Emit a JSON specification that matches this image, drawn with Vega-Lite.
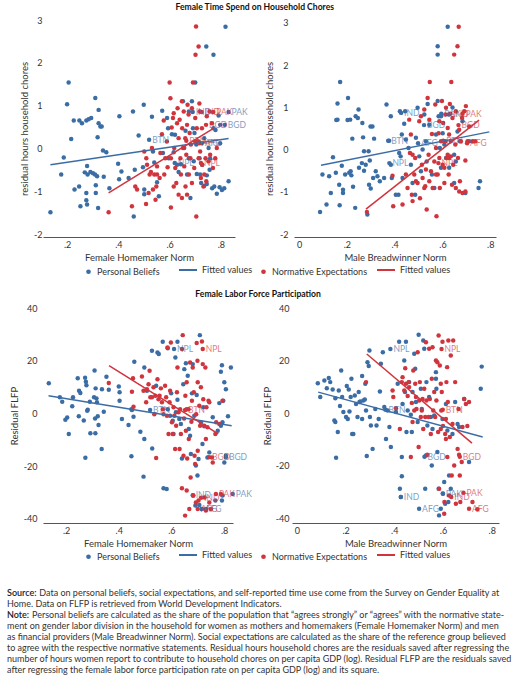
{
  "$schema": "https://vega.github.io/schema/vega-lite/v6.json",
  "padding": {"left": 7, "top": 3, "right": 2, "bottom": 0},
  "spacing": 27,
  "datasets": {
    "tl": [
      {"g":"PB","x":0.135,"y":-1.49},{"g":"PB","x":0.177,"y":-0.61},{"g":"PB","x":0.187,"y":-0.21},{"g":"PB","x":0.2,"y":1.03},{"g":"PB","x":0.206,"y":1.54},{"g":"PB","x":0.216,"y":0.22},{"g":"PB","x":0.226,"y":0.65},{"g":"PB","x":0.229,"y":-0.96},{"g":"PB","x":0.247,"y":-0.89},{"g":"PB","x":0.248,"y":0.65},{"g":"PB","x":0.258,"y":0.59},{"g":"PB","x":0.252,"y":-1.35},{"g":"PB","x":0.269,"y":-0.56},{"g":"PB","x":0.275,"y":0.65},{"g":"PB","x":0.28,"y":-0.61},{"g":"PB","x":0.278,"y":-0.41},{"g":"PB","x":0.275,"y":-1.04},{"g":"PB","x":0.275,"y":-1.21},{"g":"PB","x":0.278,"y":-1.31},{"g":"PB","x":0.284,"y":0.68},{"g":"PB","x":0.294,"y":0.71},{"g":"PB","x":0.291,"y":-0.55},{"g":"PB","x":0.301,"y":-0.58},{"g":"PB","x":0.31,"y":1.18},{"g":"PB","x":0.309,"y":-0.61},{"g":"PB","x":0.317,"y":-0.65},{"g":"PB","x":0.312,"y":-0.86},{"g":"PB","x":0.312,"y":-1.04},{"g":"PB","x":0.319,"y":0.26},{"g":"PB","x":0.323,"y":0.9},{"g":"PB","x":0.323,"y":0.59},{"g":"PB","x":0.33,"y":0.51},{"g":"PB","x":0.335,"y":0.51},{"g":"PB","x":0.321,"y":-1.39},{"g":"PB","x":0.34,"y":-0.05},{"g":"PB","x":0.353,"y":-0.09},{"g":"PB","x":0.343,"y":-0.66},{"g":"PB","x":0.365,"y":-0.93},{"g":"PB","x":0.404,"y":0.75},{"g":"PB","x":0.399,"y":-0.36},{"g":"PB","x":0.403,"y":-0.72},{"g":"PB","x":0.412,"y":-0.54},{"g":"PB","x":0.44,"y":-0.69},{"g":"PB","x":0.457,"y":0.86},{"g":"PB","x":0.46,"y":-1.59},{"g":"PB","x":0.464,"y":-0.5},{"g":"PB","x":0.479,"y":0.3},{"g":"PB","x":0.499,"y":1.02},{"g":"PB","x":0.496,"y":-0.44},{"g":"PB","x":0.501,"y":-0.96},{"g":"PB","x":0.501,"y":-1.07},{"g":"PB","x":0.531,"y":0.74},{"g":"PB","x":0.535,"y":-0.07},{"g":"PB","x":0.54,"y":-0.33},{"g":"PB","x":0.551,"y":-0.79},{"g":"PB","x":0.558,"y":-1.12},{"g":"PB","x":0.571,"y":0.88},{"g":"PB","x":0.574,"y":-0.11},{"g":"PB","x":0.59,"y":0.71},{"g":"PB","x":0.594,"y":0.47},{"g":"PB","x":0.596,"y":-0.23},{"g":"PB","x":0.609,"y":0.33},{"g":"PB","x":0.616,"y":-0.09},{"g":"PB","x":0.621,"y":0.32},{"g":"PB","x":0.629,"y":-0.38},{"g":"PB","x":0.635,"y":-0.55},{"g":"PB","x":0.644,"y":-0.37},{"g":"PB","x":0.652,"y":1.1},{"g":"PB","x":0.657,"y":0.01},{"g":"PB","x":0.662,"y":0.41},{"g":"PB","x":0.668,"y":-0.61},{"g":"PB","x":0.675,"y":0.86},{"g":"PB","x":0.687,"y":1.1},{"g":"PB","x":0.7,"y":1.54},{"g":"PB","x":0.691,"y":0.47},{"g":"PB","x":0.697,"y":0.36},{"g":"PB","x":0.704,"y":0.09},{"g":"PB","x":0.713,"y":0.16},{"g":"PB","x":0.717,"y":-0.23},{"g":"PB","x":0.719,"y":-0.61},{"g":"PB","x":0.723,"y":-0.81},{"g":"PB","x":0.735,"y":-0.87},{"g":"PB","x":0.745,"y":-0.83},{"g":"PB","x":0.743,"y":2.38},{"g":"PB","x":0.771,"y":2.19},{"g":"PB","x":0.818,"y":2.84},{"g":"PB","x":0.771,"y":0.47},{"g":"PB","x":0.779,"y":0.43},{"g":"PB","x":0.766,"y":-0.93},{"g":"PB","x":0.774,"y":-0.89},{"g":"PB","x":0.784,"y":-1.06},{"g":"PB","x":0.795,"y":-0.91},{"g":"PB","x":0.804,"y":-0.97},{"g":"PB","x":0.813,"y":-0.93},{"g":"PB","x":0.83,"y":-0.77},{"g":"PB","x":0.797,"y":0.12},{"g":"PB","x":0.797,"y":0.55},{"g":"PB","x":0.791,"y":0.77},{"g":"PB","x":0.756,"y":-0.5},{"g":"PB","x":0.745,"y":-0.63},{"g":"PB","x":0.727,"y":-0.38},{"g":"PB","x":0.752,"y":0.01},{"g":"PB","x":0.758,"y":-0.23},{"g":"PB","x":0.694,"y":-0.3},{"g":"PB","x":0.675,"y":-0.23},{"g":"PB","x":0.681,"y":-1.16},{"g":"PB","x":0.706,"y":-0.6},{"g":"PB","x":0.735,"y":0.24},
      {"g":"PB","x":0.69,"y":0.85,"lab":"IND"},{"g":"PB","x":0.83,"y":0.85,"lab":"PAK"},{"g":"PB","x":0.815,"y":0.55,"lab":"BGD"},{"g":"PB","x":0.52,"y":0.2,"lab":"BTN"},{"g":"PB","x":0.725,"y":0.12,"lab":"AFG"},{"g":"PB","x":0.62,"y":-0.34,"lab":"NPL"},
      {"g":"NE","x":0.362,"y":-1.49},{"g":"NE","x":0.453,"y":-1.35},{"g":"NE","x":0.466,"y":-0.89},{"g":"NE","x":0.473,"y":-0.96},{"g":"NE","x":0.501,"y":-0.07},{"g":"NE","x":0.509,"y":-0.23},{"g":"NE","x":0.512,"y":-0.38},{"g":"NE","x":0.508,"y":-1.3},{"g":"NE","x":0.518,"y":-1.04},{"g":"NE","x":0.522,"y":-0.61},{"g":"NE","x":0.527,"y":-0.55},{"g":"NE","x":0.535,"y":-0.96},{"g":"NE","x":0.54,"y":-0.61},{"g":"NE","x":0.545,"y":-1.2},{"g":"NE","x":0.548,"y":-0.89},{"g":"NE","x":0.551,"y":-0.61},{"g":"NE","x":0.561,"y":-0.69},{"g":"NE","x":0.57,"y":0.33},{"g":"NE","x":0.577,"y":0.65},{"g":"NE","x":0.579,"y":-0.61},{"g":"NE","x":0.583,"y":-0.23},{"g":"NE","x":0.592,"y":-0.44},{"g":"NE","x":0.6,"y":1.54},{"g":"NE","x":0.603,"y":1.17},{"g":"NE","x":0.605,"y":-0.23},{"g":"NE","x":0.605,"y":-1.38},{"g":"NE","x":0.608,"y":0.49},{"g":"NE","x":0.613,"y":0.71},{"g":"NE","x":0.616,"y":0.82},{"g":"NE","x":0.618,"y":0.01},{"g":"NE","x":0.622,"y":-0.46},{"g":"NE","x":0.626,"y":-0.81},{"g":"NE","x":0.629,"y":0.59},{"g":"NE","x":0.631,"y":0.94},{"g":"NE","x":0.635,"y":0.24},{"g":"NE","x":0.635,"y":-1.08},{"g":"NE","x":0.639,"y":0.67},{"g":"NE","x":0.642,"y":-0.23},{"g":"NE","x":0.644,"y":-0.61},{"g":"NE","x":0.648,"y":1.1},{"g":"NE","x":0.649,"y":0.47},{"g":"NE","x":0.652,"y":0.01},{"g":"NE","x":0.655,"y":0.86},{"g":"NE","x":0.657,"y":-0.42},{"g":"NE","x":0.661,"y":0.24},{"g":"NE","x":0.662,"y":-0.89},{"g":"NE","x":0.665,"y":-0.15},{"g":"NE","x":0.668,"y":0.55},{"g":"NE","x":0.67,"y":1.02},{"g":"NE","x":0.674,"y":0.79},{"g":"NE","x":0.675,"y":-0.61},{"g":"NE","x":0.678,"y":0.36},{"g":"NE","x":0.681,"y":-0.23},{"g":"NE","x":0.683,"y":0.09},{"g":"NE","x":0.687,"y":-0.81},{"g":"NE","x":0.691,"y":1.54},{"g":"NE","x":0.696,"y":-0.46},{"g":"NE","x":0.7,"y":0.71},{"g":"NE","x":0.701,"y":2.19},{"g":"NE","x":0.703,"y":2.85},{"g":"NE","x":0.704,"y":-1.59},{"g":"NE","x":0.706,"y":0.47},{"g":"NE","x":0.709,"y":0.16},{"g":"NE","x":0.713,"y":2.38},{"g":"NE","x":0.713,"y":-0.23},{"g":"NE","x":0.716,"y":1.05},{"g":"NE","x":0.719,"y":-0.07},{"g":"NE","x":0.722,"y":-0.69},{"g":"NE","x":0.726,"y":0.47},{"g":"NE","x":0.727,"y":-0.38},{"g":"NE","x":0.732,"y":-0.89},{"g":"NE","x":0.735,"y":-0.61},{"g":"NE","x":0.74,"y":-0.23},{"g":"NE","x":0.743,"y":-0.77},{"g":"NE","x":0.745,"y":0.75},{"g":"NE","x":0.752,"y":-0.3},{"g":"NE","x":0.756,"y":0.86},{"g":"NE","x":0.758,"y":-0.15},{"g":"NE","x":0.765,"y":0.59},{"g":"NE","x":0.769,"y":-0.46},{"g":"NE","x":0.778,"y":-0.23},{"g":"NE","x":0.784,"y":0.01},{"g":"NE","x":0.564,"y":-0.11},{"g":"NE","x":0.589,"y":0.16},{"g":"NE","x":0.531,"y":0.01},{"g":"NE","x":0.551,"y":-0.42},{"g":"NE","x":0.668,"y":-1.08},{"g":"NE","x":0.648,"y":-1.16},{"g":"NE","x":0.616,"y":-0.89},{"g":"NE","x":0.717,"y":0.86},{"g":"NE","x":0.7,"y":0.16},{"g":"NE","x":0.687,"y":0.94},
      {"g":"NE","x":0.725,"y":0.85,"lab":"IND"},{"g":"NE","x":0.77,"y":0.85,"lab":"PAK"},{"g":"NE","x":0.742,"y":0.55,"lab":"BGD"},{"g":"NE","x":0.665,"y":0.18,"lab":"BTN"},{"g":"NE","x":0.715,"y":0.12,"lab":"AFG"},{"g":"NE","x":0.722,"y":-0.34,"lab":"NPL"}
    ],
    "tlfit": [
      {"g":"FPB","x":0.135,"y":-0.38},{"g":"FPB","x":0.83,"y":0.23},
      {"g":"FNE","x":0.362,"y":-1.04},{"g":"FNE","x":0.771,"y":0.47}
    ],
    "tr": [
      {"g":"PB","x":0.088,"y":-1.48},{"g":"PB","x":0.098,"y":-0.59},{"g":"PB","x":0.115,"y":-1.3},{"g":"PB","x":0.126,"y":-0.63},{"g":"PB","x":0.133,"y":-1.03},{"g":"PB","x":0.142,"y":-0.18},{"g":"PB","x":0.154,"y":-0.55},{"g":"PB","x":0.156,"y":0.7},{"g":"PB","x":0.161,"y":1.09},{"g":"PB","x":0.161,"y":0.71},{"g":"PB","x":0.168,"y":-0.83},{"g":"PB","x":0.172,"y":1.6},{"g":"PB","x":0.17,"y":-1.32},{"g":"PB","x":0.179,"y":-0.38},{"g":"PB","x":0.184,"y":-0.95},{"g":"PB","x":0.184,"y":-1.03},{"g":"PB","x":0.193,"y":-0.59},{"g":"PB","x":0.205,"y":1.22},{"g":"PB","x":0.203,"y":0.7},{"g":"PB","x":0.21,"y":-0.55},{"g":"PB","x":0.214,"y":0.71},{"g":"PB","x":0.216,"y":-0.51},{"g":"PB","x":0.219,"y":-0.61},{"g":"PB","x":0.223,"y":0.26},{"g":"PB","x":0.226,"y":-0.88},{"g":"PB","x":0.235,"y":-1.38},{"g":"PB","x":0.237,"y":0.79},{"g":"PB","x":0.246,"y":0.75},{"g":"PB","x":0.249,"y":0.95},{"g":"PB","x":0.251,"y":-0.43},{"g":"PB","x":0.263,"y":-0.32},{"g":"PB","x":0.265,"y":0.63},{"g":"PB","x":0.268,"y":0.29},{"g":"PB","x":0.272,"y":-0.04},{"g":"PB","x":0.272,"y":-0.5},{"g":"PB","x":0.279,"y":-0.36},{"g":"PB","x":0.286,"y":-1.54},{"g":"PB","x":0.291,"y":-0.04},{"g":"PB","x":0.296,"y":-0.26},{"g":"PB","x":0.299,"y":0.55},{"g":"PB","x":0.307,"y":0.55},{"g":"PB","x":0.31,"y":-0.67},{"g":"PB","x":0.314,"y":0.26},{"g":"PB","x":0.293,"y":-0.83},{"g":"PB","x":0.3,"y":-0.92},{"g":"PB","x":0.321,"y":-0.51},{"g":"PB","x":0.328,"y":-0.63},{"g":"PB","x":0.338,"y":-0.75},{"g":"PB","x":0.356,"y":-0.67},{"g":"PB","x":0.366,"y":1.07},{"g":"PB","x":0.377,"y":0.21},{"g":"PB","x":0.384,"y":0.79},{"g":"PB","x":0.384,"y":-0.36},{"g":"PB","x":0.388,"y":-0.67},{"g":"PB","x":0.405,"y":-1.07},{"g":"PB","x":0.416,"y":-1.07},{"g":"PB","x":0.419,"y":-0.08},{"g":"PB","x":0.422,"y":0.91},{"g":"PB","x":0.425,"y":-0.16},{"g":"PB","x":0.43,"y":0.36},{"g":"PB","x":0.433,"y":-0.67},{"g":"PB","x":0.44,"y":0.61},{"g":"PB","x":0.444,"y":0.91},{"g":"PB","x":0.447,"y":0.24},{"g":"PB","x":0.458,"y":0.04},{"g":"PB","x":0.468,"y":-0.36},{"g":"PB","x":0.475,"y":-0.79},{"g":"PB","x":0.486,"y":-1.07},{"g":"PB","x":0.489,"y":0.28},{"g":"PB","x":0.496,"y":0.99},{"g":"PB","x":0.503,"y":-0.16},{"g":"PB","x":0.51,"y":-0.51},{"g":"PB","x":0.517,"y":0.0},{"g":"PB","x":0.524,"y":0.83},{"g":"PB","x":0.531,"y":0.2},{"g":"PB","x":0.534,"y":-0.28},{"g":"PB","x":0.538,"y":1.08},{"g":"PB","x":0.545,"y":0.59},{"g":"PB","x":0.556,"y":-0.59},{"g":"PB","x":0.566,"y":-0.91},{"g":"PB","x":0.573,"y":0.36},{"g":"PB","x":0.58,"y":1.15},{"g":"PB","x":0.58,"y":2.25},{"g":"PB","x":0.58,"y":2.45},{"g":"PB","x":0.584,"y":0.79},{"g":"PB","x":0.589,"y":0.04},{"g":"PB","x":0.594,"y":-0.43},{"g":"PB","x":0.601,"y":0.39},{"g":"PB","x":0.608,"y":0.12},{"g":"PB","x":0.615,"y":-0.2},{"g":"PB","x":0.622,"y":2.91},{"g":"PB","x":0.626,"y":0.83},{"g":"PB","x":0.628,"y":-0.43},{"g":"PB","x":0.635,"y":0.2},{"g":"PB","x":0.642,"y":1.0},{"g":"PB","x":0.649,"y":-0.79},{"g":"PB","x":0.656,"y":-0.28},{"g":"PB","x":0.663,"y":0.43},{"g":"PB","x":0.673,"y":0.2},{"g":"PB","x":0.684,"y":0.67},{"g":"PB","x":0.696,"y":-1.03},{"g":"PB","x":0.712,"y":0.2},{"g":"PB","x":0.751,"y":-0.91},{"g":"PB","x":0.757,"y":-0.75},{"g":"PB","x":0.649,"y":-0.12},{"g":"PB","x":0.594,"y":0.79},
      {"g":"PB","x":0.427,"y":0.87,"lab":"IND"},{"g":"PB","x":0.595,"y":0.85,"lab":"PAK"},{"g":"PB","x":0.523,"y":0.58,"lab":"BGD"},{"g":"PB","x":0.373,"y":0.21,"lab":"BTN"},{"g":"PB","x":0.498,"y":0.15,"lab":"AFG"},{"g":"PB","x":0.378,"y":-0.32,"lab":"NPL"},
      {"g":"NE","x":0.284,"y":-1.48},{"g":"NE","x":0.391,"y":-0.62},{"g":"NE","x":0.394,"y":-1.34},{"g":"NE","x":0.433,"y":-1.3},{"g":"NE","x":0.447,"y":-0.59},{"g":"NE","x":0.454,"y":-0.91},{"g":"NE","x":0.461,"y":0.71},{"g":"NE","x":0.464,"y":-0.08},{"g":"NE","x":0.468,"y":0.36},{"g":"NE","x":0.472,"y":-1.07},{"g":"NE","x":0.475,"y":-1.22},{"g":"NE","x":0.482,"y":-0.59},{"g":"NE","x":0.486,"y":-0.2},{"g":"NE","x":0.489,"y":-0.75},{"g":"NE","x":0.496,"y":-0.79},{"g":"NE","x":0.503,"y":0.67},{"g":"NE","x":0.506,"y":-1.15},{"g":"NE","x":0.51,"y":0.79},{"g":"NE","x":0.514,"y":-0.36},{"g":"NE","x":0.517,"y":-0.67},{"g":"NE","x":0.524,"y":0.95},{"g":"NE","x":0.528,"y":-0.87},{"g":"NE","x":0.531,"y":-0.47},{"g":"NE","x":0.534,"y":-1.42},{"g":"NE","x":0.538,"y":1.22},{"g":"NE","x":0.542,"y":-0.12},{"g":"NE","x":0.545,"y":0.71},{"g":"NE","x":0.547,"y":1.6},{"g":"NE","x":0.552,"y":-0.51},{"g":"NE","x":0.556,"y":0.37},{"g":"NE","x":0.559,"y":-0.91},{"g":"NE","x":0.566,"y":-0.28},{"g":"NE","x":0.57,"y":1.07},{"g":"NE","x":0.573,"y":0.04},{"g":"NE","x":0.575,"y":-1.58},{"g":"NE","x":0.58,"y":-0.59},{"g":"NE","x":0.584,"y":0.39},{"g":"NE","x":0.587,"y":0.67},{"g":"NE","x":0.589,"y":-0.91},{"g":"NE","x":0.594,"y":0.2},{"g":"NE","x":0.598,"y":1.15},{"g":"NE","x":0.601,"y":-0.36},{"g":"NE","x":0.603,"y":0.63},{"g":"NE","x":0.608,"y":-0.79},{"g":"NE","x":0.612,"y":0.2},{"g":"NE","x":0.615,"y":0.99},{"g":"NE","x":0.617,"y":-0.2},{"g":"NE","x":0.622,"y":0.51},{"g":"NE","x":0.626,"y":-0.59},{"g":"NE","x":0.628,"y":0.36},{"g":"NE","x":0.631,"y":1.08},{"g":"NE","x":0.635,"y":-0.16},{"g":"NE","x":0.637,"y":1.6},{"g":"NE","x":0.64,"y":-0.83},{"g":"NE","x":0.642,"y":0.75},{"g":"NE","x":0.645,"y":-0.36},{"g":"NE","x":0.649,"y":2.25},{"g":"NE","x":0.654,"y":0.12},{"g":"NE","x":0.656,"y":0.91},{"g":"NE","x":0.663,"y":2.45},{"g":"NE","x":0.665,"y":-0.2},{"g":"NE","x":0.668,"y":2.91},{"g":"NE","x":0.67,"y":0.47},{"g":"NE","x":0.673,"y":-0.75},{"g":"NE","x":0.677,"y":0.2},{"g":"NE","x":0.682,"y":0.75},{"g":"NE","x":0.684,"y":-1.03},{"g":"NE","x":0.691,"y":0.91},{"g":"NE","x":0.696,"y":-0.26},{"g":"NE","x":0.698,"y":1.03},{"g":"NE","x":0.705,"y":0.2},{"g":"NE","x":0.712,"y":0.55},{"g":"NE","x":0.726,"y":0.2},{"g":"NE","x":0.737,"y":0.2},{"g":"NE","x":0.696,"y":-0.99},{"g":"NE","x":0.67,"y":-0.99},{"g":"NE","x":0.656,"y":-0.91},{"g":"NE","x":0.628,"y":-0.2},{"g":"NE","x":0.608,"y":-0.43},{"g":"NE","x":0.587,"y":-0.2},{"g":"NE","x":0.573,"y":-0.59},{"g":"NE","x":0.545,"y":-0.75},{"g":"NE","x":0.524,"y":-0.91},{"g":"NE","x":0.475,"y":-0.12},{"g":"NE","x":0.612,"y":0.83},{"g":"NE","x":0.622,"y":-0.12},
      {"g":"NE","x":0.633,"y":0.85,"lab":"IND"},{"g":"NE","x":0.684,"y":0.85,"lab":"PAK"},{"g":"NE","x":0.667,"y":0.58,"lab":"BGD"},{"g":"NE","x":0.603,"y":0.21,"lab":"BTN"},{"g":"NE","x":0.703,"y":0.15,"lab":"AFG"},{"g":"NE","x":0.583,"y":-0.32,"lab":"NPL"}
    ],
    "trfit": [
      {"g":"FPB","x":0.092,"y":-0.37},{"g":"FPB","x":0.796,"y":0.42},
      {"g":"FNE","x":0.28,"y":-1.41},{"g":"FNE","x":0.753,"y":0.7}
    ],
    "bl": [
      {"g":"PB","x":0.134,"y":11.4},{"g":"PB","x":0.176,"y":6.1},{"g":"PB","x":0.185,"y":4.4},{"g":"PB","x":0.197,"y":-2.4},{"g":"PB","x":0.204,"y":-1.6},{"g":"PB","x":0.21,"y":-7.8},{"g":"PB","x":0.223,"y":2.7},{"g":"PB","x":0.226,"y":6.1},{"g":"PB","x":0.244,"y":13.3},{"g":"PB","x":0.249,"y":8.6},{"g":"PB","x":0.254,"y":7.7},{"g":"PB","x":0.248,"y":-1.1},{"g":"PB","x":0.267,"y":-2.7},{"g":"PB","x":0.272,"y":13.5},{"g":"PB","x":0.275,"y":12.0},{"g":"PB","x":0.277,"y":10.7},{"g":"PB","x":0.273,"y":-16.8},{"g":"PB","x":0.28,"y":1.0},{"g":"PB","x":0.282,"y":1.4},{"g":"PB","x":0.29,"y":4.4},{"g":"PB","x":0.292,"y":-7.5},{"g":"PB","x":0.306,"y":6.1},{"g":"PB","x":0.308,"y":16.3},{"g":"PB","x":0.31,"y":-1.9},{"g":"PB","x":0.312,"y":9.5},{"g":"PB","x":0.315,"y":5.7},{"g":"PB","x":0.317,"y":4.2},{"g":"PB","x":0.311,"y":-7.5},{"g":"PB","x":0.32,"y":-1.1},{"g":"PB","x":0.323,"y":-4.4},{"g":"PB","x":0.336,"y":9.2},{"g":"PB","x":0.335,"y":-13.5},{"g":"PB","x":0.343,"y":0.6},{"g":"PB","x":0.353,"y":13.9},{"g":"PB","x":0.362,"y":9.0},{"g":"PB","x":0.4,"y":10.2},{"g":"PB","x":0.403,"y":8.0},{"g":"PB","x":0.403,"y":4.8},{"g":"PB","x":0.412,"y":-2.1},{"g":"PB","x":0.437,"y":-4.4},{"g":"PB","x":0.448,"y":1.6},{"g":"PB","x":0.45,"y":1.3},{"g":"PB","x":0.448,"y":-16.3},{"g":"PB","x":0.456,"y":-1.3},{"g":"PB","x":0.459,"y":19.6},{"g":"PB","x":0.482,"y":-7.0},{"g":"PB","x":0.494,"y":-24.0},{"g":"PB","x":0.497,"y":-9.7},{"g":"PB","x":0.497,"y":17.4},{"g":"PB","x":0.507,"y":8.6},{"g":"PB","x":0.526,"y":23.8},{"g":"PB","x":0.527,"y":-13.3},{"g":"PB","x":0.542,"y":10.5},{"g":"PB","x":0.547,"y":23.1},{"g":"PB","x":0.552,"y":22.5},{"g":"PB","x":0.567,"y":27.2},{"g":"PB","x":0.57,"y":-28.4},{"g":"PB","x":0.582,"y":-28.7},{"g":"PB","x":0.586,"y":1.6},{"g":"PB","x":0.586,"y":24.7},{"g":"PB","x":0.595,"y":-0.9},{"g":"PB","x":0.599,"y":7.6},{"g":"PB","x":0.605,"y":-2.8},{"g":"PB","x":0.608,"y":-7.8},{"g":"PB","x":0.615,"y":21.2},{"g":"PB","x":0.617,"y":0.4},{"g":"PB","x":0.623,"y":5.2},{"g":"PB","x":0.623,"y":27.2},{"g":"PB","x":0.63,"y":-2.1},{"g":"PB","x":0.636,"y":-4.0},{"g":"PB","x":0.64,"y":-17.1},{"g":"PB","x":0.645,"y":11.1},{"g":"PB","x":0.649,"y":16.8},{"g":"PB","x":0.655,"y":19.0},{"g":"PB","x":0.658,"y":1.6},{"g":"PB","x":0.662,"y":14.3},{"g":"PB","x":0.666,"y":-5.9},{"g":"PB","x":0.671,"y":-8.5},{"g":"PB","x":0.674,"y":-15.4},{"g":"PB","x":0.678,"y":7.6},{"g":"PB","x":0.681,"y":18.7},{"g":"PB","x":0.683,"y":-31.2},{"g":"PB","x":0.687,"y":-0.9},{"g":"PB","x":0.691,"y":-35.0},{"g":"PB","x":0.693,"y":-19.8},{"g":"PB","x":0.696,"y":7.0},{"g":"PB","x":0.699,"y":-23.6},{"g":"PB","x":0.703,"y":-17.3},{"g":"PB","x":0.706,"y":-34.8},{"g":"PB","x":0.708,"y":29.7},{"g":"PB","x":0.712,"y":-3.4},{"g":"PB","x":0.716,"y":-36.3},{"g":"PB","x":0.721,"y":2.3},{"g":"PB","x":0.725,"y":-4.9},{"g":"PB","x":0.731,"y":-36.3},{"g":"PB","x":0.737,"y":-16.7},{"g":"PB","x":0.744,"y":-14.8},{"g":"PB","x":0.767,"y":-33.1},{"g":"PB","x":0.776,"y":-6.6},{"g":"PB","x":0.782,"y":3.9},{"g":"PB","x":0.788,"y":-4.7},{"g":"PB","x":0.792,"y":18.3},{"g":"PB","x":0.794,"y":-3.4},{"g":"PB","x":0.797,"y":4.8},{"g":"PB","x":0.801,"y":11.8},{"g":"PB","x":0.801,"y":-18.6},{"g":"PB","x":0.807,"y":9.2},{"g":"PB","x":0.788,"y":15.8},{"g":"PB","x":0.792,"y":-33.1},{"g":"PB","x":0.807,"y":-16.1},{"g":"PB","x":0.815,"y":-1.1},{"g":"PB","x":0.826,"y":17.4},{"g":"PB","x":0.794,"y":-31.2},{"g":"PB","x":0.757,"y":-1.5},{"g":"PB","x":0.718,"y":-11.6},
      {"g":"PB","x":0.61,"y":24.4,"lab":"NPL"},{"g":"PB","x":0.519,"y":1.3,"lab":"BTN"},{"g":"PB","x":0.807,"y":-16.6,"lab":"BGD"},{"g":"PB","x":0.833,"y":-30.6,"lab":"PAK"},{"g":"PB","x":0.681,"y":-31.1,"lab":"IND"},{"g":"PB","x":0.715,"y":-36.3,"lab":"AFG"},
      {"g":"NE","x":0.362,"y":11.5},{"g":"NE","x":0.45,"y":8.2},{"g":"NE","x":0.454,"y":13.3},{"g":"NE","x":0.456,"y":2.5},{"g":"NE","x":0.488,"y":14.0},{"g":"NE","x":0.494,"y":8.6},{"g":"NE","x":0.504,"y":4.2},{"g":"NE","x":0.507,"y":9.2},{"g":"NE","x":0.513,"y":11.1},{"g":"NE","x":0.517,"y":16.2},{"g":"NE","x":0.52,"y":6.1},{"g":"NE","x":0.526,"y":6.1},{"g":"NE","x":0.532,"y":9.9},{"g":"NE","x":0.535,"y":-0.3},{"g":"NE","x":0.539,"y":6.7},{"g":"NE","x":0.542,"y":-16.9},{"g":"NE","x":0.547,"y":13.0},{"g":"NE","x":0.551,"y":5.4},{"g":"NE","x":0.555,"y":6.7},{"g":"NE","x":0.56,"y":9.5},{"g":"NE","x":0.564,"y":4.2},{"g":"NE","x":0.568,"y":1.6},{"g":"NE","x":0.57,"y":-0.3},{"g":"NE","x":0.576,"y":10.5},{"g":"NE","x":0.58,"y":6.1},{"g":"NE","x":0.583,"y":-0.9},{"g":"NE","x":0.585,"y":25.0},{"g":"NE","x":0.589,"y":-7.8},{"g":"NE","x":0.593,"y":4.2},{"g":"NE","x":0.595,"y":8.6},{"g":"NE","x":0.598,"y":26.9},{"g":"NE","x":0.602,"y":-3.4},{"g":"NE","x":0.605,"y":-7.8},{"g":"NE","x":0.608,"y":2.3},{"g":"NE","x":0.611,"y":-0.9},{"g":"NE","x":0.614,"y":-13.5},{"g":"NE","x":0.618,"y":-4.7},{"g":"NE","x":0.621,"y":8.0},{"g":"NE","x":0.623,"y":17.4},{"g":"NE","x":0.627,"y":0.4},{"g":"NE","x":0.631,"y":-13.5},{"g":"NE","x":0.633,"y":1.6},{"g":"NE","x":0.636,"y":-7.8},{"g":"NE","x":0.64,"y":-28.4},{"g":"NE","x":0.643,"y":29.7},{"g":"NE","x":0.646,"y":-16.1},{"g":"NE","x":0.648,"y":-1.9},{"g":"NE","x":0.652,"y":-38.8},{"g":"NE","x":0.653,"y":6.7},{"g":"NE","x":0.655,"y":-6.6},{"g":"NE","x":0.658,"y":11.8},{"g":"NE","x":0.66,"y":-17.1},{"g":"NE","x":0.665,"y":1.6},{"g":"NE","x":0.666,"y":-9.7},{"g":"NE","x":0.668,"y":-36.3},{"g":"NE","x":0.671,"y":19.3},{"g":"NE","x":0.673,"y":-24.3},{"g":"NE","x":0.676,"y":-3.2},{"g":"NE","x":0.678,"y":4.8},{"g":"NE","x":0.681,"y":17.4},{"g":"NE","x":0.683,"y":-31.2},{"g":"NE","x":0.685,"y":8.0},{"g":"NE","x":0.688,"y":-16.1},{"g":"NE","x":0.69,"y":-19.2},{"g":"NE","x":0.693,"y":-33.8},{"g":"NE","x":0.694,"y":-0.3},{"g":"NE","x":0.696,"y":26.7},{"g":"NE","x":0.699,"y":20.0},{"g":"NE","x":0.7,"y":11.8},{"g":"NE","x":0.703,"y":-33.1},{"g":"NE","x":0.706,"y":2.9},{"g":"NE","x":0.709,"y":-4.7},{"g":"NE","x":0.712,"y":9.9},{"g":"NE","x":0.716,"y":27.3},{"g":"NE","x":0.719,"y":18.7},{"g":"NE","x":0.721,"y":5.4},{"g":"NE","x":0.725,"y":-4.7},{"g":"NE","x":0.726,"y":-31.9},{"g":"NE","x":0.729,"y":17.4},{"g":"NE","x":0.731,"y":-36.9},{"g":"NE","x":0.733,"y":2.3},{"g":"NE","x":0.737,"y":-5.3},{"g":"NE","x":0.741,"y":4.8},{"g":"NE","x":0.744,"y":-33.8},{"g":"NE","x":0.75,"y":-36.3},{"g":"NE","x":0.754,"y":-16.7},{"g":"NE","x":0.757,"y":-18.6},{"g":"NE","x":0.767,"y":-7.8},{"g":"NE","x":0.77,"y":-3.4},{"g":"NE","x":0.782,"y":-4.0},{"g":"NE","x":0.788,"y":-30.6},{"g":"NE","x":0.794,"y":4.8},{"g":"NE","x":0.658,"y":-29.3},{"g":"NE","x":0.64,"y":24.4},{"g":"NE","x":0.7,"y":-14.2},{"g":"NE","x":0.731,"y":-9.7},{"g":"NE","x":0.744,"y":4.2},
      {"g":"NE","x":0.719,"y":24.4,"lab":"NPL"},{"g":"NE","x":0.652,"y":1.3,"lab":"BTN"},{"g":"NE","x":0.743,"y":-16.6,"lab":"BGD"},{"g":"NE","x":0.769,"y":-30.6,"lab":"PAK"},{"g":"NE","x":0.713,"y":-32.0,"lab":"IND"},{"g":"NE","x":0.7,"y":-36.3,"lab":"AFG"}
    ],
    "blfit": [
      {"g":"FPB","x":0.133,"y":6.7},{"g":"FPB","x":0.829,"y":-4.7},
      {"g":"FNE","x":0.363,"y":18.1},{"g":"FNE","x":0.778,"y":-7.8}
    ],
    "br": [
      {"g":"PB","x":0.086,"y":11.4},{"g":"PB","x":0.096,"y":6.1},{"g":"PB","x":0.113,"y":12.4},{"g":"PB","x":0.123,"y":9.5},{"g":"PB","x":0.131,"y":13.4},{"g":"PB","x":0.137,"y":11.8},{"g":"PB","x":0.147,"y":9.0},{"g":"PB","x":0.154,"y":-2.8},{"g":"PB","x":0.158,"y":5.7},{"g":"PB","x":0.158,"y":-3.4},{"g":"PB","x":0.161,"y":-17.0},{"g":"PB","x":0.168,"y":-7.2},{"g":"PB","x":0.172,"y":8.6},{"g":"PB","x":0.177,"y":2.7},{"g":"PB","x":0.182,"y":16.2},{"g":"PB","x":0.186,"y":6.1},{"g":"PB","x":0.191,"y":0.4},{"g":"PB","x":0.202,"y":-1.5},{"g":"PB","x":0.205,"y":10.3},{"g":"PB","x":0.209,"y":-2.2},{"g":"PB","x":0.213,"y":9.0},{"g":"PB","x":0.216,"y":0.6},{"g":"PB","x":0.221,"y":6.1},{"g":"PB","x":0.224,"y":13.1},{"g":"PB","x":0.227,"y":-7.9},{"g":"PB","x":0.232,"y":-7.9},{"g":"PB","x":0.238,"y":6.7},{"g":"PB","x":0.243,"y":3.5},{"g":"PB","x":0.249,"y":-1.5},{"g":"PB","x":0.254,"y":8.0},{"g":"PB","x":0.257,"y":4.2},{"g":"PB","x":0.261,"y":4.4},{"g":"PB","x":0.268,"y":14.1},{"g":"PB","x":0.268,"y":-2.2},{"g":"PB","x":0.273,"y":4.8},{"g":"PB","x":0.279,"y":5.2},{"g":"PB","x":0.281,"y":11.2},{"g":"PB","x":0.284,"y":1.0},{"g":"PB","x":0.287,"y":-16.3},{"g":"PB","x":0.29,"y":19.4},{"g":"PB","x":0.295,"y":17.9},{"g":"PB","x":0.298,"y":23.8},{"g":"PB","x":0.3,"y":-1.5},{"g":"PB","x":0.304,"y":-4.7},{"g":"PB","x":0.311,"y":-13.6},{"g":"PB","x":0.322,"y":1.6},{"g":"PB","x":0.327,"y":-4.7},{"g":"PB","x":0.336,"y":-2.2},{"g":"PB","x":0.341,"y":8.2},{"g":"PB","x":0.345,"y":18.8},{"g":"PB","x":0.353,"y":23.2},{"g":"PB","x":0.359,"y":2.3},{"g":"PB","x":0.366,"y":-9.8},{"g":"PB","x":0.373,"y":1.0},{"g":"PB","x":0.38,"y":-5.3},{"g":"PB","x":0.386,"y":-12.9},{"g":"PB","x":0.407,"y":0.4},{"g":"PB","x":0.414,"y":11.2},{"g":"PB","x":0.42,"y":27.2},{"g":"PB","x":0.423,"y":-28.8},{"g":"PB","x":0.427,"y":-31.9},{"g":"PB","x":0.431,"y":-24.0},{"g":"PB","x":0.431,"y":-16.7},{"g":"PB","x":0.434,"y":3.5},{"g":"PB","x":0.441,"y":20.0},{"g":"PB","x":0.444,"y":8.0},{"g":"PB","x":0.448,"y":27.2},{"g":"PB","x":0.45,"y":-7.2},{"g":"PB","x":0.455,"y":1.0},{"g":"PB","x":0.461,"y":11.8},{"g":"PB","x":0.468,"y":-0.6},{"g":"PB","x":0.472,"y":-7.2},{"g":"PB","x":0.482,"y":22.6},{"g":"PB","x":0.486,"y":16.9},{"g":"PB","x":0.489,"y":4.2},{"g":"PB","x":0.496,"y":-3.4},{"g":"PB","x":0.5,"y":29.8},{"g":"PB","x":0.509,"y":9.3},{"g":"PB","x":0.513,"y":1.6},{"g":"PB","x":0.519,"y":27.6},{"g":"PB","x":0.523,"y":24.5},{"g":"PB","x":0.527,"y":-28.8},{"g":"PB","x":0.53,"y":-16.1},{"g":"PB","x":0.532,"y":11.8},{"g":"PB","x":0.536,"y":-4.7},{"g":"PB","x":0.543,"y":6.1},{"g":"PB","x":0.55,"y":-1.5},{"g":"PB","x":0.554,"y":-19.9},{"g":"PB","x":0.557,"y":-6.0},{"g":"PB","x":0.564,"y":-0.9},{"g":"PB","x":0.571,"y":15.6},{"g":"PB","x":0.573,"y":9.3},{"g":"PB","x":0.577,"y":-14.8},{"g":"PB","x":0.582,"y":-28.8},{"g":"PB","x":0.584,"y":-38.9},{"g":"PB","x":0.591,"y":-36.4},{"g":"PB","x":0.598,"y":-2.2},{"g":"PB","x":0.6,"y":-30.7},{"g":"PB","x":0.605,"y":-26.2},{"g":"PB","x":0.609,"y":-34.5},{"g":"PB","x":0.612,"y":3.5},{"g":"PB","x":0.618,"y":-6.6},{"g":"PB","x":0.622,"y":-33.8},{"g":"PB","x":0.625,"y":-23.7},{"g":"PB","x":0.632,"y":-28.8},{"g":"PB","x":0.639,"y":-7.9},{"g":"PB","x":0.65,"y":4.2},{"g":"PB","x":0.66,"y":-4.1},{"g":"PB","x":0.666,"y":-5.3},{"g":"PB","x":0.687,"y":5.4},{"g":"PB","x":0.707,"y":-18.6},{"g":"PB","x":0.759,"y":17.7},{"g":"PB","x":0.755,"y":9.3},{"g":"PB","x":0.571,"y":13.1},{"g":"PB","x":0.475,"y":8.0},
      {"g":"PB","x":0.384,"y":24.4,"lab":"NPL"},{"g":"PB","x":0.364,"y":1.3,"lab":"BTN"},{"g":"PB","x":0.524,"y":-16.6,"lab":"BGD"},{"g":"PB","x":0.427,"y":-31.9,"lab":"IND"},{"g":"PB","x":0.599,"y":-30.6,"lab":"PAK"},{"g":"PB","x":0.502,"y":-36.4,"lab":"AFG"},
      {"g":"NE","x":0.284,"y":11.8},{"g":"NE","x":0.393,"y":8.6},{"g":"NE","x":0.396,"y":6.1},{"g":"NE","x":0.407,"y":1.9},{"g":"NE","x":0.423,"y":-6.0},{"g":"NE","x":0.431,"y":11.8},{"g":"NE","x":0.434,"y":13.7},{"g":"NE","x":0.441,"y":8.6},{"g":"NE","x":0.445,"y":17.1},{"g":"NE","x":0.448,"y":11.2},{"g":"NE","x":0.455,"y":6.5},{"g":"NE","x":0.459,"y":11.8},{"g":"NE","x":0.461,"y":9.9},{"g":"NE","x":0.468,"y":-16.7},{"g":"NE","x":0.472,"y":3.9},{"g":"NE","x":0.475,"y":-3.4},{"g":"NE","x":0.478,"y":16.2},{"g":"NE","x":0.482,"y":1.0},{"g":"NE","x":0.486,"y":11.2},{"g":"NE","x":0.489,"y":6.1},{"g":"NE","x":0.491,"y":1.6},{"g":"NE","x":0.496,"y":23.2},{"g":"NE","x":0.5,"y":-12.9},{"g":"NE","x":0.502,"y":4.8},{"g":"NE","x":0.505,"y":11.8},{"g":"NE","x":0.509,"y":-1.5},{"g":"NE","x":0.513,"y":1.0},{"g":"NE","x":0.516,"y":5.4},{"g":"NE","x":0.519,"y":-6.0},{"g":"NE","x":0.523,"y":9.3},{"g":"NE","x":0.527,"y":-1.5},{"g":"NE","x":0.53,"y":27.0},{"g":"NE","x":0.532,"y":4.8},{"g":"NE","x":0.536,"y":-15.8},{"g":"NE","x":0.541,"y":-1.5},{"g":"NE","x":0.543,"y":24.5},{"g":"NE","x":0.546,"y":5.4},{"g":"NE","x":0.55,"y":-7.9},{"g":"NE","x":0.554,"y":13.1},{"g":"NE","x":0.557,"y":25.1},{"g":"NE","x":0.56,"y":1.0},{"g":"NE","x":0.564,"y":8.0},{"g":"NE","x":0.568,"y":-1.5},{"g":"NE","x":0.571,"y":20.0},{"g":"NE","x":0.573,"y":4.8},{"g":"NE","x":0.577,"y":19.4},{"g":"NE","x":0.58,"y":-7.2},{"g":"NE","x":0.582,"y":29.5},{"g":"NE","x":0.584,"y":-28.8},{"g":"NE","x":0.587,"y":18.1},{"g":"NE","x":0.591,"y":11.2},{"g":"NE","x":0.593,"y":1.0},{"g":"NE","x":0.595,"y":8.0},{"g":"NE","x":0.598,"y":27.2},{"g":"NE","x":0.6,"y":-4.9},{"g":"NE","x":0.605,"y":-38.3},{"g":"NE","x":0.606,"y":-33.8},{"g":"NE","x":0.609,"y":-7.9},{"g":"NE","x":0.612,"y":-2.2},{"g":"NE","x":0.614,"y":11.8},{"g":"NE","x":0.617,"y":17.5},{"g":"NE","x":0.618,"y":-16.7},{"g":"NE","x":0.62,"y":4.2},{"g":"NE","x":0.622,"y":27.6},{"g":"NE","x":0.625,"y":-31.3},{"g":"NE","x":0.628,"y":-9.1},{"g":"NE","x":0.632,"y":21.9},{"g":"NE","x":0.636,"y":-23.7},{"g":"NE","x":0.639,"y":-4.1},{"g":"NE","x":0.642,"y":27.6},{"g":"NE","x":0.646,"y":-19.9},{"g":"NE","x":0.65,"y":11.8},{"g":"NE","x":0.653,"y":-34.5},{"g":"NE","x":0.66,"y":-13.6},{"g":"NE","x":0.664,"y":1.6},{"g":"NE","x":0.666,"y":-15.8},{"g":"NE","x":0.669,"y":-23.7},{"g":"NE","x":0.671,"y":-33.8},{"g":"NE","x":0.677,"y":-18.6},{"g":"NE","x":0.68,"y":-5.3},{"g":"NE","x":0.687,"y":5.4},{"g":"NE","x":0.694,"y":3.5},{"g":"NE","x":0.7,"y":-4.9},{"g":"NE","x":0.707,"y":4.2},{"g":"NE","x":0.721,"y":-33.8},{"g":"NE","x":0.741,"y":-36.6},{"g":"NE","x":0.591,"y":-6.0},{"g":"NE","x":0.612,"y":-9.8},
      {"g":"NE","x":0.594,"y":24.4,"lab":"NPL"},{"g":"NE","x":0.599,"y":1.3,"lab":"BTN"},{"g":"NE","x":0.669,"y":-16.6,"lab":"BGD"},{"g":"NE","x":0.634,"y":-31.9,"lab":"IND"},{"g":"NE","x":0.684,"y":-30.3,"lab":"PAK"},{"g":"NE","x":0.707,"y":-36.4,"lab":"AFG"}
    ],
    "brfit": [
      {"g":"FPB","x":0.0876,"y":8.0},{"g":"FPB","x":0.763,"y":-9.1},
      {"g":"FNE","x":0.287,"y":22.5},{"g":"FNE","x":0.719,"y":-11.4}
    ],
    "notes": [
      {"line":0,"head":"Source:","body":"Data on personal beliefs, social expectations, and self-reported time use come from the Survey on Gender Equality at"},
      {"line":1,"body":"Home. Data on FLFP is retrieved from World Development Indicators."},
      {"line":2,"head":"Note:","body":"Personal beliefs are calculated as the share of the population that “agrees strongly” or “agrees” with the normative state-"},
      {"line":3,"body":"ment on gender labor division in the household for women as mothers and homemakers (Female Homemaker Norm) and men"},
      {"line":4,"body":"as financial providers (Male Breadwinner Norm). Social expectations are calculated as the share of the reference group believed"},
      {"line":5,"body":"to agree with the respective normative statements. Residual hours household chores are the residuals saved after regressing the"},
      {"line":6,"body":"number of hours women report to contribute to household chores on per capita GDP (log). Residual FLFP are the residuals saved"},
      {"line":7,"body":"after regressing the female labor force participation rate on per capita GDP (log) and its square."}
    ]
  },
  "vconcat": [
    {
      "spacing": 13,
      "resolve": {"scale": {"fill": "independent", "stroke": "independent"}},
      "vconcat": [
        {
          "title": {"text": "Female Time Spend on Household Chores", "offset": 4, "dx": -3},
          "spacing": 59,
          "bounds": "flush",
          "hconcat": [
            {
              "width": 192,
              "height": 217,
              "data": {"name": "tl"},
              "encoding": {
                "x": {"field": "x", "type": "quantitative", "scale": {"domain": [0.106, 0.855], "nice": false, "zero": false}, "axis": {"title": "Female Homemaker Norm", "values": [0.2, 0.4, 0.6, 0.8], "labelExpr": "datum.value == 0 ? '0' : substring(format(datum.value, '.1f'), 1)"}},
                "y": {"field": "y", "type": "quantitative", "scale": {"domain": [-2.07, 3], "nice": false, "zero": false}, "axis": {"title": "residual hours household chores", "values": [-2, -1, 0, 1, 2, 3], "labelExpr": "'' + datum.value", "labelPadding": 1, "titlePadding": 4}}
              },
              "layer": [
                {"mark": {"type": "circle", "size": 20, "opacity": 1},
                 "encoding": {"fill": {"field": "g", "type": "nominal", "scale": {"domain": ["PB", "NE"], "range": ["#3b6da5", "#d0343d"]},
                   "legend": {"orient": "none", "legendX": 41, "legendY": 247, "direction": "horizontal", "title": null, "symbolSize": 22, "labelOffset": 4, "columnPadding": 99,
                     "labelExpr": "datum.label == 'PB' ? 'Personal Beliefs' : 'Normative Expectations'"}}}},
                {"data": {"name": "tlfit"}, "mark": {"type": "line", "strokeWidth": 1.5},
                 "encoding": {"stroke": {"field": "g", "type": "nominal", "scale": {"domain": ["FPB", "FNE"], "range": ["#3b6da5", "#d0343d"]},
                   "legend": {"orient": "none", "legendX": 135, "legendY": 240, "direction": "horizontal", "title": null, "symbolSize": 324, "symbolStrokeWidth": 2, "labelOffset": 4, "columnPadding": 120,
                     "labelExpr": "'Fitted values'"}}}},
                {"transform": [{"filter": "datum.lab"}], "mark": {"type": "text", "align": "left", "dx": 3, "fontSize": 8.5, "opacity": 0.65},
                 "encoding": {"text": {"field": "lab"}, "fill": {"field": "g", "type": "nominal", "scale": {"domain": ["PB", "NE"], "range": ["#3b6da5", "#d0343d"]}}}}
              ]
            },
            {
              "width": 202,
              "height": 217,
              "data": {"name": "tr"},
              "encoding": {
                "x": {"field": "x", "type": "quantitative", "scale": {"domain": [-0.021, 0.824], "nice": false, "zero": false}, "axis": {"title": "Male Breadwinner Norm", "values": [0, 0.2, 0.4, 0.6, 0.8], "labelExpr": "datum.value == 0 ? '0' : substring(format(datum.value, '.1f'), 1)"}},
                "y": {"field": "y", "type": "quantitative", "scale": {"domain": [-2.07, 3.07], "nice": false, "zero": false}, "axis": {"title": "residual hours household chores", "values": [-2, -1, 0, 1, 2, 3], "labelExpr": "'' + datum.value", "labelPadding": 6, "titlePadding": 5}}
              },
              "layer": [
                {"mark": {"type": "circle", "size": 20, "opacity": 1},
                 "encoding": {"fill": {"field": "g", "type": "nominal", "scale": {"domain": ["PB", "NE"], "range": ["#3b6da5", "#d0343d"]}}}},
                {"data": {"name": "trfit"}, "mark": {"type": "line", "strokeWidth": 1.5},
                 "encoding": {"stroke": {"field": "g", "type": "nominal", "scale": {"domain": ["FPB", "FNE"], "range": ["#3b6da5", "#d0343d"]}}}},
                {"transform": [{"filter": "datum.lab"}], "mark": {"type": "text", "align": "left", "dx": 3, "fontSize": 8.5, "opacity": 0.65},
                 "encoding": {"text": {"field": "lab"}, "fill": {"field": "g", "type": "nominal", "scale": {"domain": ["PB", "NE"], "range": ["#3b6da5", "#d0343d"]}}}}
              ]
            }
          ]
        },
        {
          "title": {"text": "Female Labor Force Participation", "offset": 5, "dx": 4},
          "spacing": 59,
          "bounds": "flush",
          "hconcat": [
            {
              "width": 190,
              "height": 215,
              "data": {"name": "bl"},
              "encoding": {
                "x": {"field": "x", "type": "quantitative", "scale": {"domain": [0.112, 0.834], "nice": false, "zero": false}, "axis": {"title": "Female Homemaker Norm", "values": [0.2, 0.4, 0.6, 0.8], "labelExpr": "datum.value == 0 ? '0' : substring(format(datum.value, '.1f'), 1)"}},
                "y": {"field": "y", "type": "quantitative", "scale": {"domain": [-41.6, 40], "nice": false, "zero": false}, "axis": {"title": "Residual FLFP", "values": [-40, -20, 0, 20, 40], "labelExpr": "'' + datum.value", "labelPadding": 6, "titlePadding": 4}}
              },
              "layer": [
                {"mark": {"type": "circle", "size": 20, "opacity": 1},
                 "encoding": {"fill": {"field": "g", "type": "nominal", "scale": {"domain": ["PB", "NE"], "range": ["#3b6da5", "#d0343d"]},
                   "legend": {"orient": "none", "legendX": 41, "legendY": 244, "direction": "horizontal", "title": null, "symbolSize": 22, "labelOffset": 4, "columnPadding": 99,
                     "labelExpr": "datum.label == 'PB' ? 'Personal Beliefs' : 'Normative Expectations'"}}}},
                {"data": {"name": "blfit"}, "mark": {"type": "line", "strokeWidth": 1.5},
                 "encoding": {"stroke": {"field": "g", "type": "nominal", "scale": {"domain": ["FPB", "FNE"], "range": ["#3b6da5", "#d0343d"]},
                   "legend": {"orient": "none", "legendX": 135, "legendY": 237, "direction": "horizontal", "title": null, "symbolSize": 324, "symbolStrokeWidth": 2, "labelOffset": 4, "columnPadding": 120,
                     "labelExpr": "'Fitted values'"}}}},
                {"transform": [{"filter": "datum.lab"}], "mark": {"type": "text", "align": "left", "dx": 3, "fontSize": 8.5, "opacity": 0.65},
                 "encoding": {"text": {"field": "lab"}, "fill": {"field": "g", "type": "nominal", "scale": {"domain": ["PB", "NE"], "range": ["#3b6da5", "#d0343d"]}}}}
              ]
            },
            {
              "width": 207,
              "height": 215,
              "data": {"name": "br"},
              "encoding": {
                "x": {"field": "x", "type": "quantitative", "scale": {"domain": [-0.02, 0.83], "nice": false, "zero": false}, "axis": {"title": "Male Breadwinner Norm", "values": [0, 0.2, 0.4, 0.6, 0.8], "labelExpr": "datum.value == 0 ? '0' : substring(format(datum.value, '.1f'), 1)"}},
                "y": {"field": "y", "type": "quantitative", "scale": {"domain": [-41.8, 40], "nice": false, "zero": false}, "axis": {"title": "Residual FLFP", "values": [-40, -20, 0, 20, 40], "labelExpr": "'' + datum.value", "labelPadding": 3, "titlePadding": 3}}
              },
              "layer": [
                {"mark": {"type": "circle", "size": 20, "opacity": 1},
                 "encoding": {"fill": {"field": "g", "type": "nominal", "scale": {"domain": ["PB", "NE"], "range": ["#3b6da5", "#d0343d"]}}}},
                {"data": {"name": "brfit"}, "mark": {"type": "line", "strokeWidth": 1.5},
                 "encoding": {"stroke": {"field": "g", "type": "nominal", "scale": {"domain": ["FPB", "FNE"], "range": ["#3b6da5", "#d0343d"]}}}},
                {"transform": [{"filter": "datum.lab"}], "mark": {"type": "text", "align": "left", "dx": 3, "fontSize": 8.5, "opacity": 0.65},
                 "encoding": {"text": {"field": "lab"}, "fill": {"field": "g", "type": "nominal", "scale": {"domain": ["PB", "NE"], "range": ["#3b6da5", "#d0343d"]}}}}
              ]
            }
          ]
        }
      ]
    },
    {
      "width": 460,
      "height": {"step": 11},
      "data": {"name": "notes"},
      "encoding": {
        "y": {"field": "line", "type": "ordinal", "axis": null, "scale": {"padding": 0}},
        "x": {"datum": 0, "type": "quantitative", "scale": {"domain": [0, 1]}, "axis": null}
      },
      "layer": [
        {"transform": [{"filter": "datum.head"}], "mark": {"type": "text", "align": "left", "baseline": "middle", "dx": -36, "font": "Lato", "fontSize": 9, "fontWeight": 600, "color": "#222"}, "encoding": {"text": {"field": "head"}}},
        {"transform": [{"filter": "datum.line == 0"}], "mark": {"type": "text", "align": "left", "baseline": "middle", "dx": -3.7, "font": "Lato", "fontSize": 9, "color": "#333"}, "encoding": {"text": {"field": "body"}}},
        {"transform": [{"filter": "datum.line == 2"}], "mark": {"type": "text", "align": "left", "baseline": "middle", "dx": -11, "font": "Lato", "fontSize": 9, "color": "#333"}, "encoding": {"text": {"field": "body"}}},
        {"transform": [{"filter": "datum.line != 0 && datum.line != 2"}], "mark": {"type": "text", "align": "left", "baseline": "middle", "dx": -36, "font": "Lato", "fontSize": 9, "color": "#333"}, "encoding": {"text": {"field": "body"}}}
      ]
    }
  ],
  "config": {
    "font": "'Liberation Sans Narrow', Lato",
    "view": {"stroke": null},
    "axis": {"grid": false, "ticks": false, "labelFontSize": 9, "titleFontSize": 9.5, "titleFontWeight": "normal", "labelColor": "#333", "titleColor": "#333", "domainColor": "#555"},
    "axisX": {"labelPadding": 3, "titlePadding": 3},
    "axisY": {"domain": false, "labelAngle": 0},
    "title": {"font": "Lato", "fontSize": 8.6, "fontWeight": "bold", "color": "#111", "anchor": "middle"},
    "legend": {"labelFontSize": 9, "labelColor": "#333"}
  }
}
